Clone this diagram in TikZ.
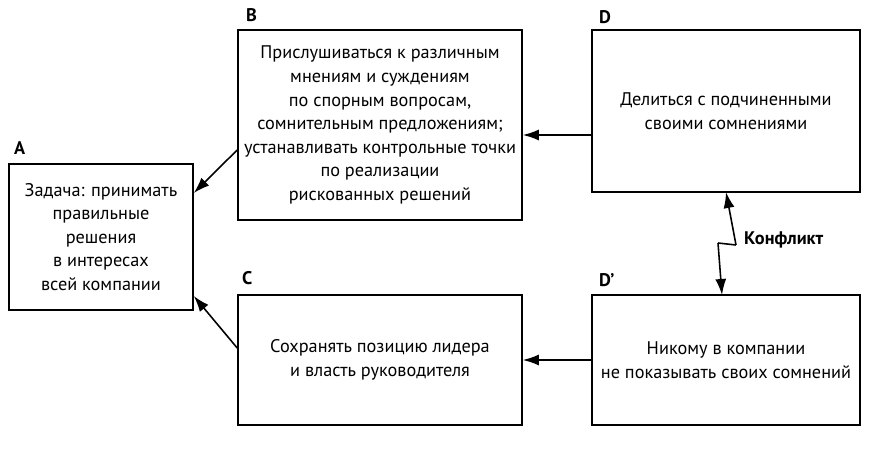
\documentclass[tikz,border=0pt]{standalone}
\usepackage{fontspec}
\setmainfont{PT Sans}
\usetikzlibrary{arrows.meta}

\begin{document}
\begin{tikzpicture}[x=0.02cm, y=-0.02cm,
	box/.style={draw, line width=0.9pt, align=center, font=\fontsize{10.4}{13.4}\selectfont, inner sep=2pt},
	tag/.style={font=\bfseries\fontsize{10.4}{12}\selectfont, anchor=west},
	arr/.style={line width=0.9pt, -{Latex[length=3.2mm, width=2.2mm]}}]
	\useasboundingbox (0,0) rectangle (875,455);

	\node[tag] (lA) at (8,148) {A};
	\node[tag] (lB) at (240,15) {B};
	\node[tag] (lC) at (236,278) {C};
	\node[tag] (lD) at (593,17) {D};
	\node[tag] (lD2) at (593,280) {D'};

	% boxes
	\node[box, minimum width=184*0.02cm, minimum height=146*0.02cm] (A) at (101,237)
		{Задача: принимать\\ правильные\\ решения\\ в интересах\\ всей компании};
	\node[box, minimum width=284*0.02cm, minimum height=190*0.02cm] (B) at (380,125)
		{Прислушиваться к различным\\ мнениям и суждениям\\ по спорным вопросам,\\ сомнительным предложениям;\\ устанавливать контрольные точки\\ по реализации\\ рискованных решений};
	\node[box, minimum width=284*0.02cm, minimum height=130*0.02cm] (C) at (380,360)
		{Сохранять позицию лидера\\ и власть руководителя};
	\node[box, minimum width=268*0.02cm, minimum height=162*0.02cm] (D) at (726,111)
		{Делиться с подчиненными\\ своими сомнениями};
	\node[box, minimum width=268*0.02cm, minimum height=130*0.02cm] (D2) at (726,360)
		{Никому в компании\\ не показывать своих сомнений};

	\coordinate (k1) at (736,245);
	\coordinate (k2) at (718,243);
	\coordinate (kD) at (726,192);
	\coordinate (kD2) at (722,295);
	\node[font=\bfseries\fontsize{10.4}{12}\selectfont, anchor=west] (K) at (738,240) {Конфликт};

	% connectors
	\draw[arr] (B.west |- 0,150) -- (A.east |- 0,193);
	\draw[arr] (C.west |- 0,348) -- (A.east |- 0,296);
	\draw[arr] (D.west |- 0,135) -- (B.east |- 0,135);
	\draw[arr] (D2.west |- 0,360) -- (C.east |- 0,360);
	\draw[arr] (k1) -- (kD);
	\draw[line width=0.9pt] (k1) -- (k2);
	\draw[arr] (k2) -- (kD2);
\end{tikzpicture}
\end{document}
